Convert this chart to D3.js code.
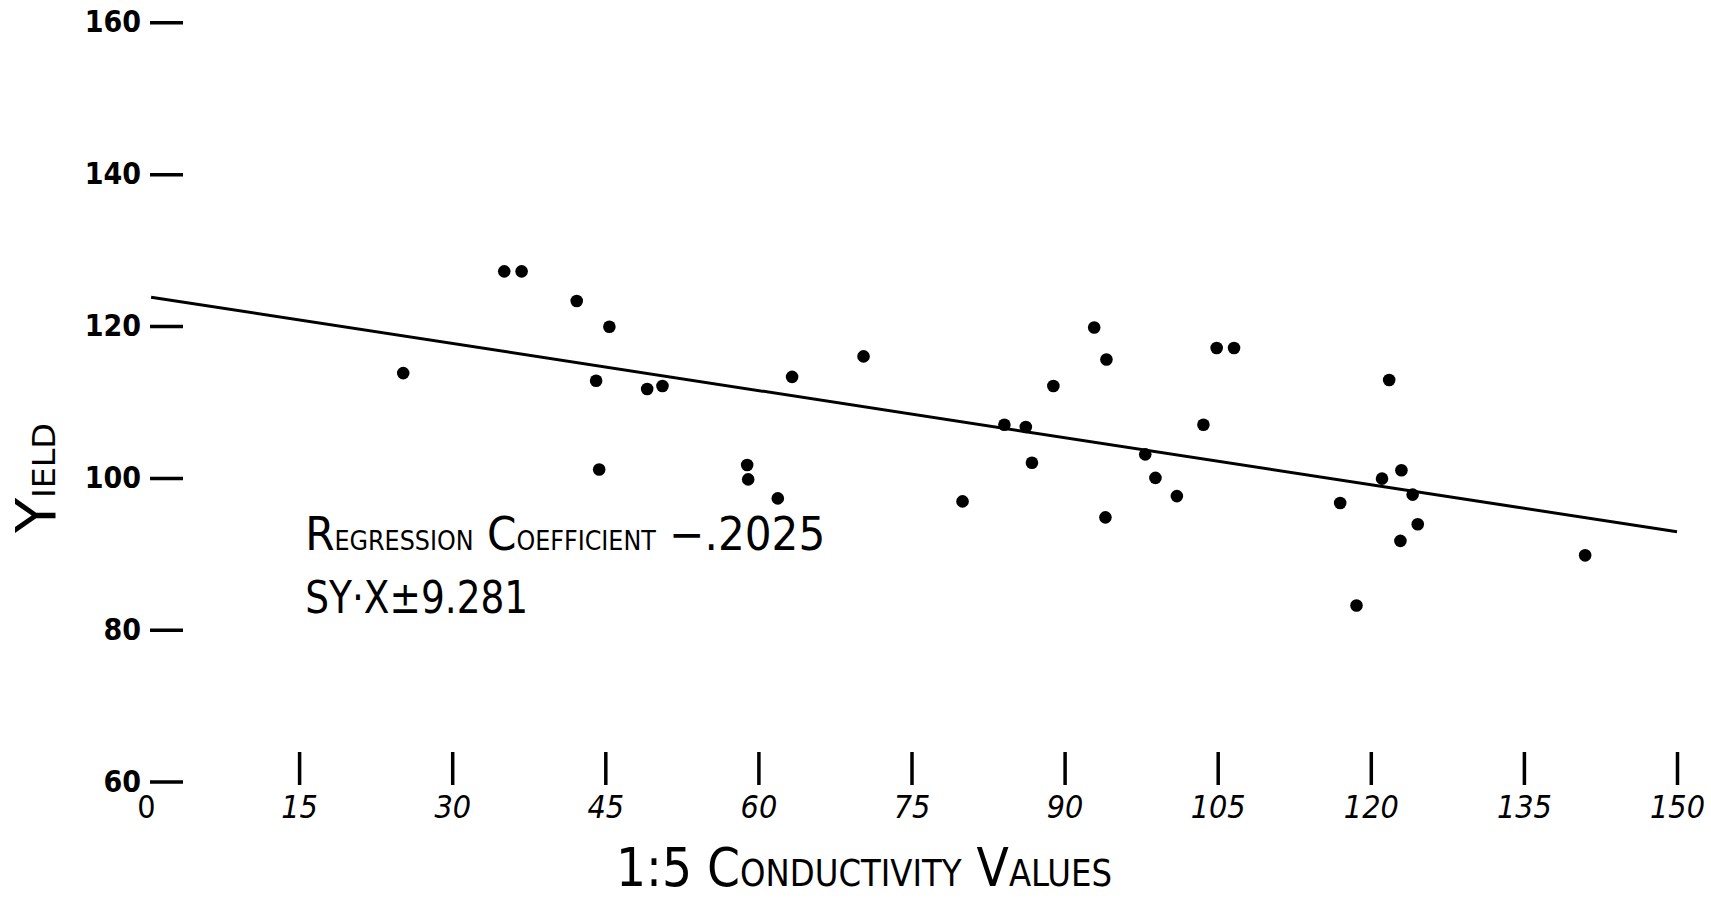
<!DOCTYPE html>
<html>
<head>
<meta charset="utf-8">
<script src="https://cdn.jsdelivr.net/npm/d3@7"></script>
<style>
  html, body { margin: 0; padding: 0; background: #fff; }
  svg { display: block; }
  text { font-family: "Liberation Sans Narrow", "DejaVu Sans Condensed", "Liberation Sans", sans-serif; fill: #000; }
</style>
</head>
<body>
<svg width="1711" height="899"></svg>
<script>
// 1:5 conductivity (x) and yield (y) for each plot
var conductivity = [25.2, 35.1, 36.8, 42.2, 45.4, 44.1, 49.1, 50.6, 44.4, 58.9,
                    59.0, 61.9, 63.3, 70.3, 80.0, 84.1, 86.2, 86.8, 88.9, 92.9,
                    94.1, 94.0, 97.9, 98.9, 101.0, 103.6, 104.9, 106.6, 117.0, 118.6,
                    121.1, 121.8, 123.0, 124.1, 122.9, 124.6, 141.0];
var yieldValues = [113.8, 127.2, 127.2, 123.3, 119.9, 112.8, 111.7, 112.1, 101.1, 101.7,
                   99.8, 97.3, 113.3, 116.0, 96.9, 107.0, 106.7, 102.0, 112.1, 119.8,
                   115.6, 94.8, 103.1, 100.0, 97.6, 107.0, 117.1, 117.1, 96.7, 83.2,
                   99.9, 112.9, 101.0, 97.8, 91.7, 93.9, 89.8];

// fitted regression line end points
var lineX = [0.5, 150];
var lineY = [123.8, 92.9];

var xTicks = [0, 15, 30, 45, 60, 75, 90, 105, 120, 135, 150];
var yTicks = [60, 80, 100, 120, 140, 160];

var xTitle = "1:5 Conductivity Values";
var yTitle = "Yield";
var noteLines = ["Regression Coefficient \u2212.2025", "SY\u00B7X\u00B19.281"];

var svg = d3.select("svg");

var x = d3.scaleLinear().domain([0, 150]).range([146, 1677]);
var y = d3.scaleLinear().domain([60, 160]).range([781.6, 22.3]);

// hand lettered small caps: capitals big, lower case as smaller capitals
function smallCaps(sel, str, big, small) {
  var runs = [];
  str.split("").forEach(function(ch) {
    var size = ch !== ch.toUpperCase() ? small : big;
    var last = runs[runs.length - 1];
    if (last && last.size === size) last.t += ch.toUpperCase();
    else runs.push({t: ch.toUpperCase(), size: size});
  });
  sel.attr("font-size", big);
  sel.selectAll("tspan").data(runs).enter().append("tspan")
      .attr("font-size", function(d) { return d.size; })
      .text(function(d) { return d.t; });
}

// y axis: short dashes with labels on the left
var yAxis = svg.append("g")
    .attr("transform", "translate(183,0)")
    .call(d3.axisLeft(y).tickValues(yTicks).tickSize(33).tickPadding(9));
yAxis.select(".domain").remove();
yAxis.selectAll("line").attr("stroke", "#000").attr("stroke-width", 3.5);
yAxis.selectAll("text")
    .attr("font-size", 30)
    .attr("font-weight", "bold")
    .attr("font-family", "'Liberation Sans Narrow', 'DejaVu Sans Condensed', sans-serif");

// x axis: upright ticks with italic numbers beneath
var xAxis = svg.append("g")
    .attr("transform", "translate(0,785)")
    .call(d3.axisBottom(x).tickValues(xTicks).tickSize(-33).tickPadding(10));
xAxis.select(".domain").remove();
xAxis.selectAll("line")
    .attr("stroke", "#000")
    .attr("stroke-width", 3.5)
    .attr("display", function(d) { return d === 0 ? "none" : null; });
xAxis.selectAll("text")
    .attr("font-size", 32)
    .attr("font-style", function(d) { return d === 0 ? "normal" : "italic"; })
    .attr("font-family", "'Liberation Sans', 'DejaVu Sans', sans-serif");

// regression line
svg.append("line")
    .attr("x1", x(lineX[0])).attr("y1", y(lineY[0]))
    .attr("x2", x(lineX[1])).attr("y2", y(lineY[1]))
    .attr("stroke", "#000")
    .attr("stroke-width", 3);

// observations
svg.append("g").selectAll("circle")
    .data(conductivity)
    .enter().append("circle")
    .attr("cx", function(d) { return x(d); })
    .attr("cy", function(d, i) { return y(yieldValues[i]); })
    .attr("r", 6.3)
    .attr("fill", "#000");

// annotation
svg.append("text")
    .attr("x", x(15.6)).attr("y", y(90.5))
    .attr("textLength", 520).attr("lengthAdjust", "spacingAndGlyphs")
    .call(smallCaps, noteLines[0], 46, 26);
svg.append("text")
    .attr("x", x(15.6)).attr("y", y(82.2))
    .attr("font-size", 44)
    .attr("textLength", 223).attr("lengthAdjust", "spacingAndGlyphs")
    .text(noteLines[1]);

// axis titles
svg.append("text")
    .attr("x", 616).attr("y", 886)
    .attr("textLength", 496).attr("lengthAdjust", "spacingAndGlyphs")
    .call(smallCaps, xTitle, 54, 37);

svg.append("text")
    .attr("transform", "translate(55,533) rotate(-90)")
    .attr("textLength", 110).attr("lengthAdjust", "spacingAndGlyphs")
    .call(smallCaps, yTitle, 55, 32);
</script>
</body>
</html>
